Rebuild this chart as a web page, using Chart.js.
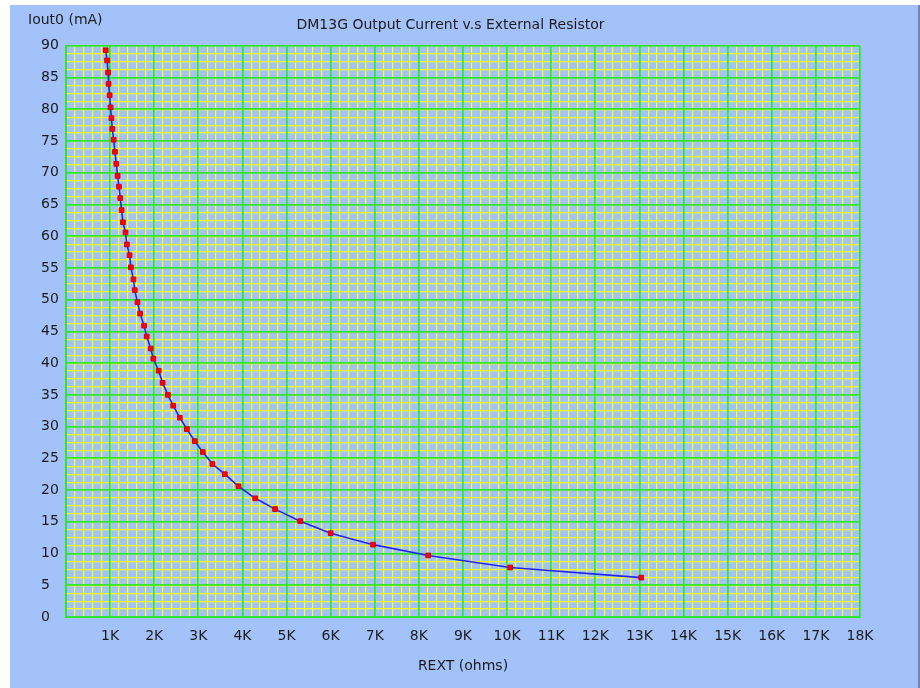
<!DOCTYPE html>
<html>
<head>
<meta charset="utf-8">
<script src="https://cdn.jsdelivr.net/npm/chart.js@4.4.1/dist/chart.umd.min.js"></script>
<style>
  html, body { margin: 0; padding: 0; background: #ffffff; }
  #wrap { position: absolute; left: 10px; top: 5px; width: 908px; height: 683px;
          background: #A3C2F9; border-right: 2px solid #7486ad; }
  canvas { display: block; }
</style>
</head>
<body>
<div id="wrap"><canvas id="c" width="908" height="683"></canvas></div>
<script>
// ---- data ----
const chartTitle = "DM13G Output Current v.s External Resistor";
const yUnitLabel = "Iout0 (mA)";
const xAxisTitle = "REXT (ohms)";

// external resistor (ohms)
const rextOhms = [900, 930, 955, 965, 990, 1010, 1030, 1050, 1080, 1110, 1140, 1170, 1200, 1230, 1260, 1290,
  1350, 1380, 1440, 1470, 1530, 1560, 1620, 1680, 1770, 1830, 1920, 1980, 2100, 2190, 2310, 2430,
  2580, 2740, 2920, 3100, 3320, 3600, 3910, 4290, 4740, 5310, 6000, 6960, 8210, 10070, 13040];
// output current (mA)
const ioutMA = [89.3, 87.7, 85.8, 84.0, 82.2, 80.3, 78.6, 76.9, 75.2, 73.3, 71.4, 69.5, 67.8, 66.0, 64.1, 62.2,
  60.6, 58.7, 57.0, 55.1, 53.2, 51.5, 49.6, 47.8, 45.9, 44.2, 42.3, 40.7, 38.8, 36.9, 35.0, 33.3,
  31.4, 29.6, 27.7, 26.0, 24.1, 22.5, 20.6, 18.7, 17.0, 15.1, 13.2, 11.4, 9.7, 7.8, 6.2];

const xTickLabels = ["", "1K", "2K", "3K", "4K", "5K", "6K", "7K", "8K", "9K", "10K",
  "11K", "12K", "13K", "14K", "15K", "16K", "17K", "18K"];
const yTickLabels = ["0", "5", "10", "15", "20", "25", "30", "35", "40", "45",
  "50", "55", "60", "65", "70", "75", "80", "85", "90"];

const xMin = 0, xMax = 18000, xMajorStep = 1000, xMinorStep = 200;
const yMin = 0, yMax = 90, yMajorStep = 5, yMinorStep = 1.25;

// ---- styles ----
const FONT = "'DejaVu Sans', sans-serif";
const FS = 14;
const GREEN = '#2ee62e';
const YELLOW = '#ffff10';
const TEXT = '#1c1c1c';

const points = rextOhms.map((r, i) => ({ x: r, y: ioutMA[i] }));

const unitLabelPlugin = {
  id: 'unitLabel',
  afterDraw(chart) {
    const ctx = chart.ctx, a = chart.chartArea;
    ctx.save();
    ctx.font = FS + 'px ' + FONT;
    ctx.fillStyle = TEXT;
    ctx.textAlign = 'left';
    ctx.textBaseline = 'middle';
    ctx.fillText(yUnitLabel, a.left - 38, a.top - 25);
    ctx.restore();
  }
};

new Chart(document.getElementById('c'), {
  type: 'scatter',
  data: {
    datasets: [{
      data: points,
      showLine: true,
      borderColor: '#2222ff',
      borderWidth: 1.6,
      tension: 0,
      pointStyle: 'rect',
      pointRadius: 3.3,
      pointBackgroundColor: '#ff0000',
      pointBorderColor: '#d00010',
      pointBorderWidth: 1,
      xAxisID: 'x',
      yAxisID: 'y'
    }]
  },
  options: {
    responsive: false,
    animation: false,
    devicePixelRatio: 1,
    layout: { padding: { left: 31, right: 58, top: 0, bottom: 0 } },
    plugins: {
      legend: { display: false },
      tooltip: { enabled: false },
      title: {
        display: true,
        text: chartTitle,
        color: TEXT,
        font: { family: FONT, size: FS, weight: 'normal', lineHeight: 1.2 },
        padding: { top: 12, bottom: 12 }
      }
    },
    scales: {
      xMinor: {
        type: 'linear', position: 'bottom', min: xMin, max: xMax,
        ticks: { display: false, stepSize: xMinorStep, maxTicksLimit: 1000 },
        grid: { color: YELLOW, lineWidth: 1.2, drawTicks: false, z: -2 },
        border: { display: false }
      },
      yMinor: {
        type: 'linear', position: 'left', min: yMin, max: yMax,
        ticks: { display: false, stepSize: yMinorStep, maxTicksLimit: 1000 },
        grid: { color: YELLOW, lineWidth: 1.2, drawTicks: false, z: -2 },
        border: { display: false }
      },
      x: {
        type: 'linear', position: 'bottom', min: xMin, max: xMax,
        afterFit(scale) { scale.height = 71; },
        ticks: {
          stepSize: xMajorStep, autoSkip: false, maxRotation: 0, padding: 11,
          color: TEXT, font: { family: FONT, size: FS },
          callback: (v, i) => xTickLabels[i]
        },
        grid: { color: GREEN, lineWidth: 1.8, drawTicks: false, z: -1 },
        border: { color: GREEN, width: 2 },
        title: {
          display: true, text: xAxisTitle, color: TEXT,
          font: { family: FONT, size: FS }, padding: { top: 0, bottom: 13 }
        }
      },
      y: {
        type: 'linear', position: 'left', min: yMin, max: yMax,
        afterFit(scale) { scale.width = 25; },
        ticks: {
          stepSize: yMajorStep, autoSkip: false, crossAlign: 'far', padding: 6,
          color: TEXT, font: { family: FONT, size: FS },
          callback: (v, i) => yTickLabels[i]
        },
        grid: { color: GREEN, lineWidth: 1.8, drawTicks: false, z: -1 },
        border: { color: GREEN, width: 2 }
      }
    }
  },
  plugins: [unitLabelPlugin]
});
</script>
</body>
</html>
